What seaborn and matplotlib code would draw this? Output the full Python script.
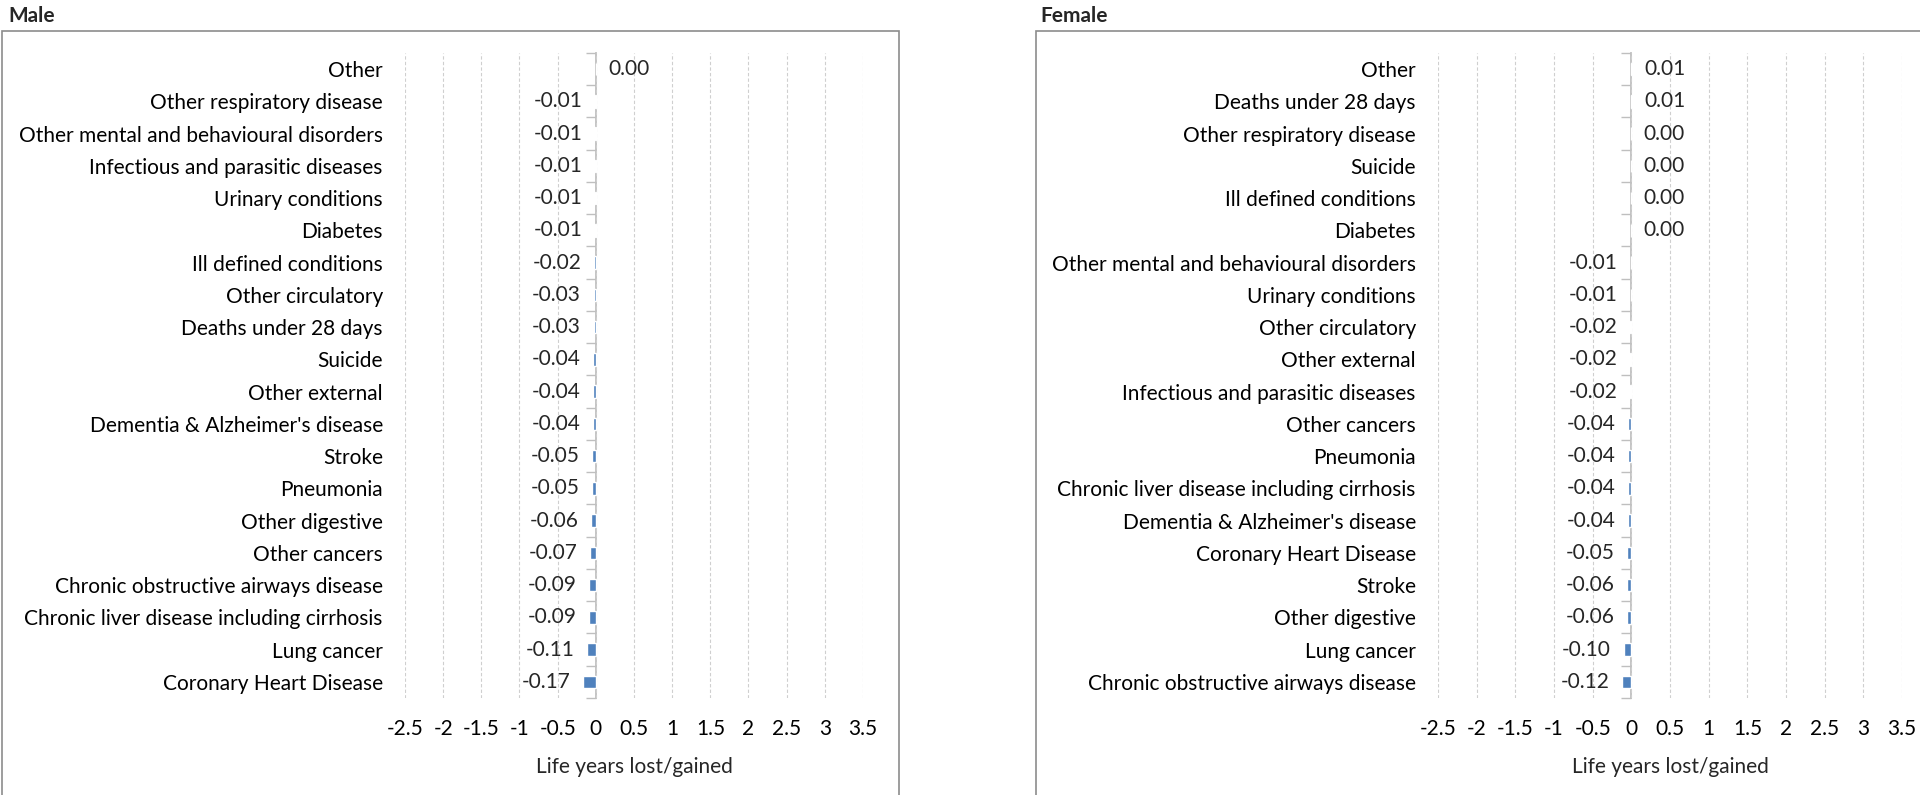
import matplotlib
matplotlib.use("Agg")
import matplotlib.pyplot as plt
import matplotlib.patches as patches
import matplotlib.ticker as mticker
import numpy as np
import pandas as pd
import seaborn as sns

male_causes = [
    "Other", "Other respiratory disease", "Other mental and behavioural disorders",
    "Infectious and parasitic diseases", "Urinary conditions", "Diabetes",
    "Ill defined conditions", "Other circulatory", "Deaths under 28 days", "Suicide",
    "Other external", "Dementia & Alzheimer's disease", "Stroke", "Pneumonia",
    "Other digestive", "Other cancers", "Chronic obstructive airways disease",
    "Chronic liver disease including cirrhosis", "Lung cancer", "Coronary Heart Disease",
]
male_values = [0.00, -0.01, -0.01, -0.01, -0.01, -0.01, -0.02, -0.03, -0.03, -0.04,
               -0.04, -0.04, -0.05, -0.05, -0.06, -0.07, -0.09, -0.09, -0.11, -0.17]

female_causes = [
    "Other", "Deaths under 28 days", "Other respiratory disease", "Suicide",
    "Ill defined conditions", "Diabetes", "Other mental and behavioural disorders",
    "Urinary conditions", "Other circulatory", "Other external",
    "Infectious and parasitic diseases", "Other cancers", "Pneumonia",
    "Chronic liver disease including cirrhosis", "Dementia & Alzheimer's disease",
    "Coronary Heart Disease", "Stroke", "Other digestive", "Lung cancer",
    "Chronic obstructive airways disease",
]
female_values = [0.01, 0.01, 0.00, 0.00, 0.00, 0.00, -0.01, -0.01, -0.02, -0.02,
                 -0.02, -0.04, -0.04, -0.04, -0.04, -0.05, -0.06, -0.06, -0.10, -0.12]

x_ticks = [-2.5, -2, -1.5, -1, -0.5, 0, 0.5, 1, 1.5, 2, 2.5, 3, 3.5]
x_label = "Life years lost/gained"

BAR_COLOR = "#4F81BD"
GRID_COLOR = "#CFCFCF"
AXIS_COLOR = "#BFBFBF"
BOX_COLOR = "#8C8C8C"
W, H = 1920, 795

sns.set_style("white")
plt.rcParams["font.family"] = ["Lato", "DejaVu Sans"]
FS = 15


def draw_panel(fig, rect_px, causes, values):
    left, right, top, bottom = rect_px
    ax = fig.add_axes([left / W, 1 - bottom / H, (right - left) / W, (bottom - top) / H])
    df = pd.DataFrame({"cause": causes, "value": values})
    sns.barplot(data=df, x="value", y="cause", orient="h", color=BAR_COLOR,
                saturation=1, width=0.38, errorbar=None, ax=ax)
    ax.set_xlim(x_ticks[0], x_ticks[-1])
    ax.set_xticks(x_ticks)
    ax.xaxis.set_major_formatter(mticker.FuncFormatter(lambda v, p: f"{v:g}"))
    ax.grid(axis="x", color=GRID_COLOR, linestyle=(0, (3, 2)), linewidth=0.8)
    ax.grid(axis="y", visible=False)
    for s in ax.spines.values():
        s.set_visible(False)
    ax.tick_params(axis="y", length=0, pad=16, labelsize=FS, labelcolor="black")
    ax.tick_params(axis="x", length=0, pad=15, labelsize=FS, labelcolor="black")
    ax.set_ylabel("")
    ax.set_xlabel(x_label, fontsize=FS, labelpad=13)

    # value axis crossing at zero, tick marks between categories
    loc = (0 - x_ticks[0]) / (x_ticks[-1] - x_ticks[0])
    sec = ax.secondary_yaxis(loc)
    sec.set_yticks(np.arange(-0.5, len(causes), 1))
    sec.set_yticklabels([])
    sec.tick_params(length=7, width=1, color=AXIS_COLOR)
    sec.spines["left"].set_color(AXIS_COLOR)
    sec.spines["left"].set_linewidth(1.3)

    labels = [f"{v:.2f}" for v in values]
    ax.bar_label(ax.containers[0], labels=labels, padding=9, fontsize=FS)
    return ax


fig = plt.figure(figsize=(W / 100, H / 100), dpi=100)

draw_panel(fig, (405, 863, 53, 698), male_causes, male_values)
draw_panel(fig, (1438, 1902, 53, 698), female_causes, female_values)

# chart frames
fig.add_artist(patches.Rectangle((2 / W, -0.05), (899 - 2) / W, (H - 31) / H + 0.05,
                                 transform=fig.transFigure, fill=False,
                                 edgecolor=BOX_COLOR, linewidth=1.2))
fig.add_artist(patches.Rectangle((1036 / W, -0.05), 1.0, (H - 31) / H + 0.05,
                                 transform=fig.transFigure, fill=False,
                                 edgecolor=BOX_COLOR, linewidth=1.2))

fig.text(8 / W, 1 - 16 / H, "Male", fontsize=15, fontweight="bold", va="center")
fig.text(1040 / W, 1 - 16 / H, "Female", fontsize=15, fontweight="bold", va="center")

fig.savefig("out.png", dpi=100)
